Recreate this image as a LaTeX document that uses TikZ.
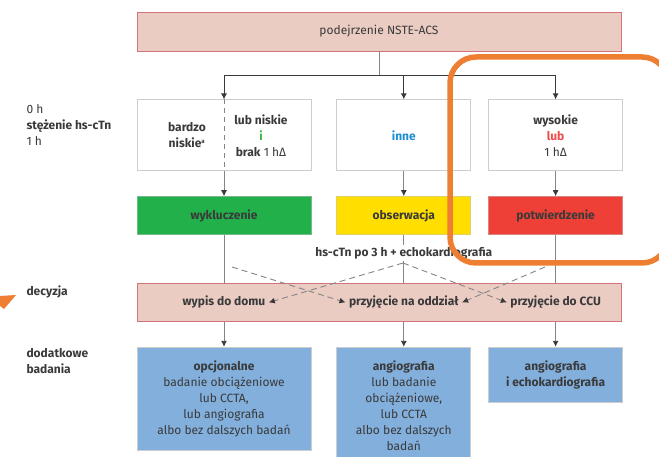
\documentclass[tikz,border=0pt]{standalone}
\usepackage{fontspec}
\setmainfont{Fira Sans}
\usepackage{xcolor}
\definecolor{ink}{HTML}{3A3A3A}
\definecolor{wiregray}{HTML}{858585}
\definecolor{pinkfill}{HTML}{EACCC3}
\definecolor{pinkline}{HTML}{D5737D}
\definecolor{boxline}{HTML}{CDCDCD}
\definecolor{okgreen}{HTML}{22B04B}
\definecolor{obsyellow}{HTML}{FFDE00}
\definecolor{alertred}{HTML}{EE4036}
\definecolor{testblue}{HTML}{82AFDC}
\definecolor{markorange}{HTML}{EE7E32}
\definecolor{ingreen}{HTML}{3DB54A}
\definecolor{inblue}{HTML}{1C8ED3}
\definecolor{inred}{HTML}{EF4B4B}
\usetikzlibrary{arrows.meta,positioning}

\newcommand{\txtsize}{\fontsize{12}{16}\selectfont}

\begin{document}
\begin{tikzpicture}[x=1pt, y=-1pt, >={Latex[length=6pt,width=6pt,color=ink]}, line cap=butt, text=ink, font=\txtsize,]
   \tikzstyle{riskbox}=[rectangle, draw=boxline, line width=.8pt, fill=white, align=center, minimum height=71pt]
   \tikzstyle{pinkbox}=[rectangle, draw=pinkline, line width=.8pt, fill=pinkfill, align=center, minimum width=484pt, minimum height=38pt]
   \tikzstyle{resultbox}=[rectangle, draw=boxline, line width=.8pt, align=center, minimum height=38pt, font=\txtsize\bfseries]
   \tikzstyle{testbox}=[rectangle, draw=boxline, line width=.8pt, fill=testblue, align=center, anchor=north]
   \tikzstyle{wire}=[draw=wiregray, line width=.9pt]
   \tikzstyle{dashwire}=[wire, dash pattern=on 6pt off 4pt]
   \tikzstyle{boldtext}=[font=\txtsize\bfseries]

   \useasboundingbox (0,0) rectangle (659,457);

   \node[pinkbox, minimum height=39pt] (acs) at (379,31.5) {podejrzenie NSTE-ACS};

   \node[riskbox, minimum width=174pt] (low) [below right=48pt and 0pt of acs.south west] {};
   \node[riskbox, minimum width=134pt, boldtext, text=inblue] (other) [right=25pt of low] {inne};
   \node[riskbox, minimum width=134pt] (high) [right=17pt of other] {\textbf{wysokie}\\\textbf{\color{inred}lub}\\1 hΔ};
   \node[align=center, boldtext] (verylow) at ([xshift=-37pt]low.center) {bardzo\\niskie\textsuperscript{\fontsize{6}{6}\selectfont a}};
   \node[align=center] (lowish) at ([xshift=37pt]low.center) {\textbf{lub niskie}\\\textbf{\color{ingreen}i}\\\textbf{brak} 1 hΔ};

   \node[resultbox, minimum width=174pt, fill=okgreen, draw=okgreen!80!black!60] (excl) [below=25pt of low] {wykluczenie};
   \node[resultbox, minimum width=134pt, fill=obsyellow, draw=obsyellow!80!black!60] (obs) [below=25pt of other] {obserwacja};
   \node[resultbox, minimum width=134pt, fill=alertred, draw=alertred!80!black!60] (conf) [below=25pt of high] {potwierdzenie};

   \node[boldtext, inner sep=1.5pt] (hs) at (obs |- 0,253) {hs-cTn po 3 h + echokardiografia};

   \node[pinkbox] (dec) [below right=48pt and 0pt of excl.south west] {};
   \node[boldtext] (home) at (excl |- dec) {wypis do domu};
   \node[boldtext] (ward) at (obs |- dec) {przyjęcie na oddział};
   \node[boldtext] (ccu) at (conf |- dec) {przyjęcie do CCU};

   \node[testbox, minimum width=174pt, minimum height=103pt] (opt) [below right=25pt and 0pt of dec.south west, anchor=north west] {\textbf{opcjonalne}\\badanie obciążeniowe\\lub CCTA,\\lub angiografia\\albo bez dalszych badań};
   \node[testbox, minimum width=134pt, minimum height=118pt] (angio) at (obs |- opt.north) {\textbf{angiografia}\\lub badanie\\obciążeniowe,\\lub CCTA\\albo bez dalszych\\badań};
   \node[testbox, minimum width=134pt, minimum height=55pt, boldtext] (echo) at (conf |- opt.north) {angiografia\\i echokardiografia};

   \node[anchor=west, align=left] (time) at (23,125) {0 h\\\textbf{stężenie hs-cTn}\\1 h};
   \node[anchor=west, boldtext] (decide) at (23,292) {decyzja};
   \node[anchor=west, align=left, boldtext] (extra) at (23,361) {dodatkowe\\badania};

   \coordinate (fork) at (acs.south |- 0,75);
   \coordinate (fromlow) at (232,267);
   \coordinate (fromobs) at (403,263);
   \coordinate (fromhigh) at (545,267);

   \draw[wire] (acs) -- (fork);
   \draw[ink, line width=.9pt] (low.north |- fork) -- (high.north |- fork);
   \draw[ink, line width=.9pt, ->] (low.north |- fork) -- (low.north);
   \draw[ink, line width=.9pt, ->] (other.north |- fork) -- (other.north);
   \draw[ink, line width=.9pt, ->] (high.north |- fork) -- (high.north);
   \draw[wire, dash pattern=on 5pt off 4pt] (low.north) -- (low.south);

   \draw[wire, ->] (low) -- (excl);
   \draw[wire, ->] (other) -- (obs);
   \draw[wire, ->] (high) -- (conf);

   \draw[wire] (excl) -- (excl |- dec.north);
   \draw[wire] (obs) -- (hs);
   \draw[wire] (hs) -- (hs |- dec.north);
   \draw[wire] (conf) -- (conf |- dec.north);

   \draw[dashwire, ->] (fromlow) -- (ward.west);
   \draw[dashwire, ->] (fromobs) -- (home.east);
   \draw[dashwire, ->] (fromobs) -- (ccu.west);
   \draw[dashwire, ->] (fromhigh) -- (ward.east);

   \draw[wire, ->] (dec.south -| opt.north) -- (opt.north);
   \draw[wire, ->] (dec.south -| angio.north) -- (angio.north);
   \draw[wire, ->] (dec.south -| echo.north) -- (echo.north);

   \begin{scope}
   \clip (0,0) rectangle (659,457);
   \draw[markorange, line width=5.5pt, rounded corners=26pt] (450,57) rectangle (668,263);
   \fill[markorange] (0,296) -- (16,295) -- (4,309) -- (0,306) -- cycle;
   \end{scope}
\end{tikzpicture}
\end{document}
